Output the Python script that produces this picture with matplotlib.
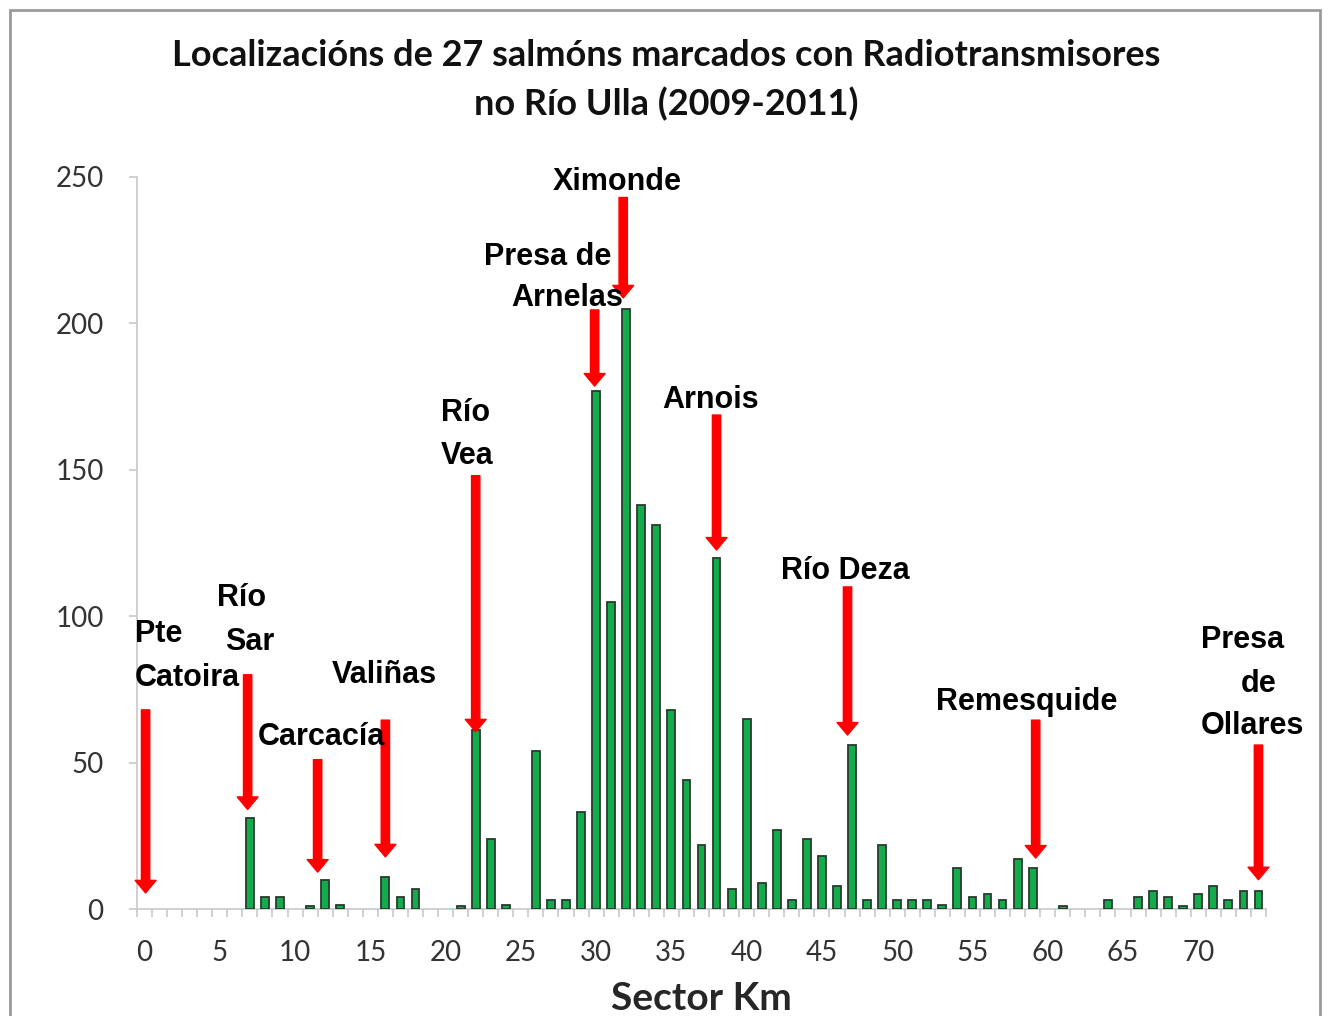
import matplotlib
matplotlib.use('Agg')
import matplotlib.pyplot as plt
from matplotlib.patches import Rectangle
from matplotlib.ticker import FixedLocator

# Localizacións por sector (km 0..74)
km = list(range(75))
locations = [0, 0, 0, 0, 0, 0, 0, 31, 4, 4,
             0, 1, 10, 1.5, 0, 0, 11, 4, 7, 0,
             0, 1, 61, 24, 1.5, 0, 54, 3, 3, 33,
             177, 105, 205, 138, 131, 68, 44, 22, 120, 7,
             65, 9, 27, 3, 24, 18, 8, 56, 3, 22,
             3, 3, 3, 1.5, 14, 4, 5, 3, 17, 14,
             0, 1, 0, 0, 3, 0, 4, 6, 4, 1,
             5, 8, 3, 6, 6]

x_ticks = list(range(0, 75, 5))
y_ticks = [0, 50, 100, 150, 200, 250]

# places on the river marked with arrows
place_km = [0.07, 6.85, 11.5, 16, 22, 29.9, 31.8, 38, 46.7, 59.2, 74]
arrow_y = [(68, 5.5), (80, 34), (51, 12.6), (64.5, 17.8), (148, 60.5),
           (204.6, 178.6), (243, 208.7), (168.7, 122.6), (110, 59.4),
           (64.5, 17.4), (56, 10)]

# label lines: (text, left x, centre y)
label_lines = [
    ('Pte', -0.665, 93.9), ('Catoira', -0.665, 78.9),
    ('Río', 4.79, 106.2), ('Sar', 5.32, 91.2),
    ('Carcacía', 7.52, 58.7),
    ('Valiñas', 12.44, 79.9),
    ('Río', 19.69, 169.4), ('Vea', 19.69, 154.7),
    ('Presa de', 22.55, 222.7), ('Arnelas', 24.35, 208.7),
    ('Ximonde', 27.15, 248.3),
    ('Arnois', 34.40, 173.8),
    ('Río Deza', 42.25, 115.4),
    ('Remesquide', 52.56, 70.7),
    ('Presa', 70.19, 91.9), ('de', 72.85, 76.8), ('Ollares', 70.19, 62.5),
]

base_font = ['Lato', 'DejaVu Sans']
label_font = ['Liberation Sans', 'DejaVu Sans']

fig = plt.figure(figsize=(13.28, 10.16), dpi=100)
ax = fig.add_axes([137 / 1328, 1 - 909 / 1016, 1129 / 1328, 732 / 1016])

bar_x = [k for k, v in zip(km, locations) if v > 0]
bar_h = [v for v in locations if v > 0]
ax.bar(bar_x, bar_h, width=0.52, color='#12ad4a', edgecolor='#2a3a30', linewidth=1.3, zorder=3)

ax.set_xlim(-0.5, 74.5)
ax.set_ylim(0, 250)

ax.set_xticks(x_ticks)
ax.set_xticklabels([str(t) for t in x_ticks], family=base_font, fontsize=20, color='#333333')
ax.xaxis.set_minor_locator(FixedLocator([k - 0.5 for k in range(76)]))
ax.tick_params(axis='x', which='major', length=0, pad=22)
ax.tick_params(axis='x', which='minor', length=6, color='#c8c8c8', width=1.2)

ax.set_yticks(y_ticks)
ax.set_yticklabels([str(t) for t in y_ticks], family=base_font, fontsize=20, color='#333333')
ax.tick_params(axis='y', length=6, color='#c8c8c8', width=1.2, pad=18)

for s in ['top', 'right']:
    ax.spines[s].set_visible(False)
for s in ['left', 'bottom']:
    ax.spines[s].set_color('#c8c8c8')
    ax.spines[s].set_linewidth(1.2)

ax.set_xlabel('Sector Km', family=base_font, fontsize=28, fontweight='bold',
              color='#262626', labelpad=11)

fig.text(666 / 1328, 1 - 80 / 1016,
         'Localizacións de 27 salmóns marcados con Radiotransmisores\nno Río Ulla (2009-2011)',
         ha='center', va='center', family=base_font, fontsize=26, fontweight='bold',
         color='#111111', linespacing=1.5)

for xk, (y0, y1) in zip(place_km, arrow_y):
    ax.annotate('', xy=(xk, y1), xytext=(xk, y0),
                arrowprops=dict(width=6, headwidth=15, headlength=9, color='#ff0000',
                                shrink=0), zorder=4)

for txt, tx, ty in label_lines:
    ax.text(tx, ty, txt, ha='left', va='center', family=label_font, fontsize=22,
            fontweight='bold', color='black', zorder=5)

fig.patches.append(Rectangle((10 / 1328, -0.02), 1310 / 1328, 1 - 10 / 1016 + 0.02,
                             transform=fig.transFigure, fill=False,
                             edgecolor='#9a9a9a', linewidth=2))

fig.savefig('out.png', dpi=100)
